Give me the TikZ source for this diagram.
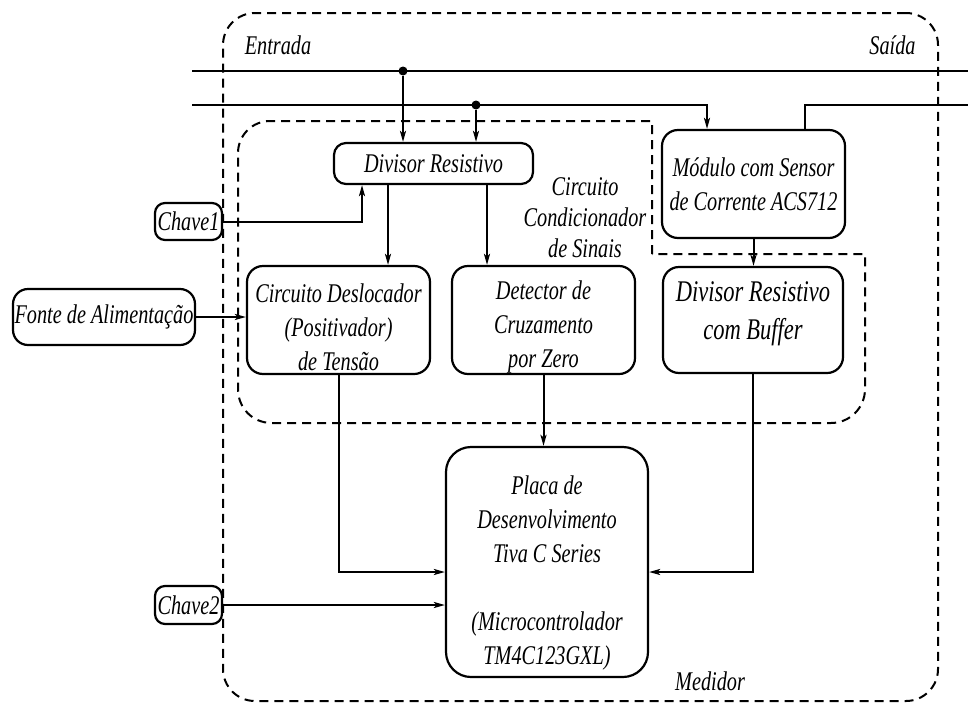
\documentclass[tikz,border=0pt]{standalone}
\usepackage{fontspec}
\setmainfont{Liberation Serif}[FakeStretch=0.75]
\usetikzlibrary{arrows.meta,calc}

\tikzset{
  txt/.style={font=\itshape\fontsize{27}{34}\selectfont, align=center, inner sep=0pt},
  bigtxt/.style={font=\itshape\fontsize{30}{38}\selectfont, align=center, inner sep=0pt},
  blockbox/.style={draw, line width=2.2pt, rounded corners=#1, inner sep=0pt},
  blockbox/.default=16pt,
  region/.style={draw, line width=2pt, dash pattern=on 9pt off 6pt},
  wire/.style={line width=2pt},
  feed/.style={wire, -{Stealth[length=11pt,width=6pt,inset=2.5pt]}},
  tap/.style={circle, fill, inner sep=0pt, minimum size=9pt},
}

\begin{document}
\begin{tikzpicture}[x=1pt,y=-1pt]
\useasboundingbox (0,0) rectangle (968,704);

% enclosing regions
\node[region, rounded corners=32pt, minimum width=715pt, minimum height=688pt] (meter) at (580.5,357) {};
\draw[region] (652,254) -- (652,121) -- (270,121)
  .. controls (252.3,121) and (238,135.3) .. (238,153) -- (238,389)
  .. controls (238,407.8) and (252.3,423) .. (272,423) -- (831,423)
  .. controls (849.8,423) and (865,407.8) .. (865,389) -- (865,254) -- cycle;

% region captions
\node[txt] (entrada) at (278,45) {Entrada};
\node[txt] (saida) at (892.5,45) {Saída};
\node[txt] (medidor) at (710,681) {Medidor};
\node[txt, font=\itshape\fontsize{27}{31}\selectfont] (cond) at (585,218) {Circuito\\Condicionador\\de Sinais};

% blocks
\node[blockbox=12pt, txt, minimum width=199pt, minimum height=41pt] (div) at (433.5,163.5) {Divisor Resistivo};
\node[blockbox, minimum width=183pt, minimum height=108pt] (desl) at (338.5,320) {};
\node[txt] (desl-t) at (338.5,327) {Circuito Deslocador\\(Positivador)\\de Tensão};
\node[blockbox, minimum width=183pt, minimum height=108pt] (det) at (543.5,320) {};
\node[txt] (det-t) at (543.5,327.5) {Detector de\\Cruzamento\\por Zero};
\node[blockbox, txt, minimum width=183pt, minimum height=108pt] (mod) at (753.5,184) {Módulo com Sensor\\de Corrente ACS712};
\node[blockbox, minimum width=180pt, minimum height=106pt] (buf) at (753,320) {};
\node[bigtxt] (buf-t) at (753,314) {Divisor Resistivo\\com Buffer};
\node[blockbox=25pt, minimum width=202pt, minimum height=230pt] (placa) at (547,562) {};
\node[txt] (placa-t) at (547,573) {Placa de\\Desenvolvimento\\Tiva C Series\\[34pt](Microcontrolador\\TM4C123GXL)};
\node[blockbox=10pt, txt, minimum width=67pt, minimum height=37pt] (key1) at (188.5,221.5) {Chave1};
\node[blockbox=10pt, txt, minimum width=67pt, minimum height=38pt] (key2) at (188.5,605) {Chave2};
\node[blockbox=15pt, txt, minimum width=182pt, minimum height=56pt] (fonte) at (104,317) {Fonte de Alimentação};

% power lines
\coordinate (in1) at (192,71);
\coordinate (out1) at (968,71);
\coordinate (in2) at (192,105);
\coordinate (out2) at (968,105);
\node[tap] (t1) at (403,71) {};
\node[tap] (t2) at (476,105) {};
\draw[wire] (in1) -- (out1);
\draw[feed] (in2) -| ([xshift=-46.5pt]mod.north);
\draw[wire] ([xshift=51.5pt]mod.north) |- (out2);
\draw[feed] (t1) -- (t1 |- div.north);
\draw[feed] (t2) -- (t2 |- div.north);

% signal connections
\draw[feed] (key1.east) -| ([xshift=-71.5pt]div.south);
\draw[feed] ([xshift=-45.5pt]div.south) -- ([xshift=-45.5pt]div.south |- desl.north);
\draw[feed] ([xshift=53.5pt]div.south) -- ([xshift=53.5pt]div.south |- det.north);
\draw[feed] (fonte.east) -- (fonte.east -| desl.west);
\draw[feed] (mod.south) -- (mod.south |- buf.north);
\draw[feed] (det.south) -- (det.south |- placa.north);
\draw[feed] (desl.south) |- ([yshift=-10pt]placa.west);
\draw[feed] (buf.south) |- ([yshift=-10pt]placa.east);
\draw[feed] (key2.east) -- (key2.east -| placa.west);
\end{tikzpicture}
\end{document}
